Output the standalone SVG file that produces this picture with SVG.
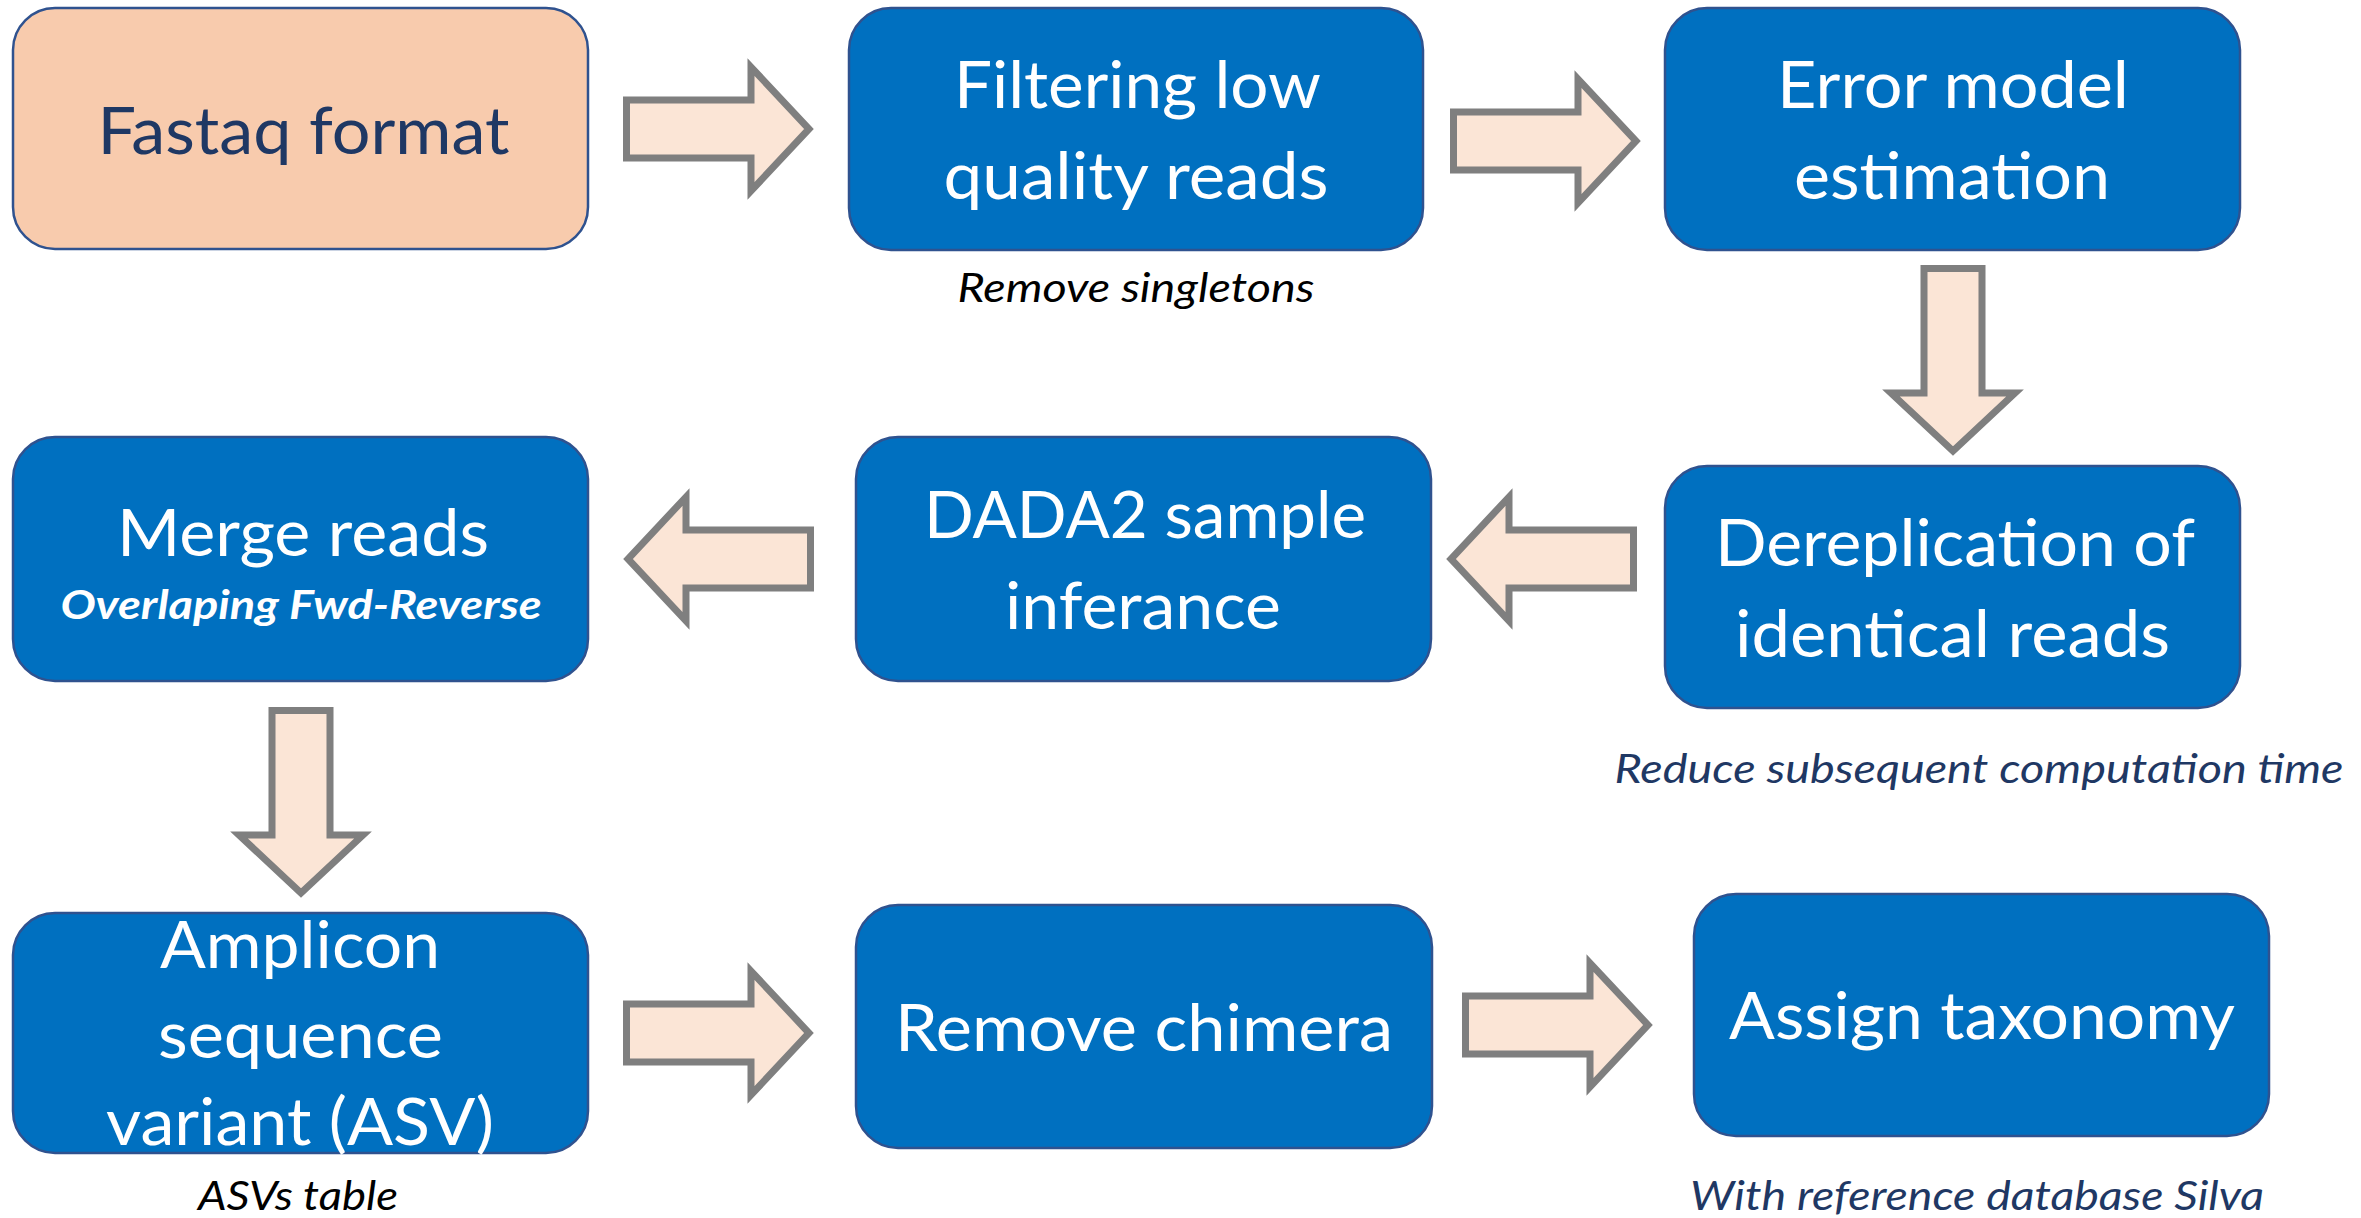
<svg xmlns="http://www.w3.org/2000/svg" width="2361" height="1218" viewBox="0 0 2361 1218">
<style>
.box{fill:#0070C0;stroke:#2F528F;stroke-width:2.5}
.peach{fill:#F8CBAD;stroke:#2F528F;stroke-width:2.5}
.arrow{fill:#FBE5D6;stroke:#7F7F7F;stroke-width:7;stroke-linejoin:miter;stroke-miterlimit:10}
text{font-family:Lato,"Open Sans","Liberation Sans",sans-serif;text-anchor:middle}
.lbl{font-size:65px;fill:#FFFFFF}
.lbl-dark{font-size:65px;fill:#1F3864}
.note{font-size:40px;font-style:italic;fill:#000000}
.note-navy{font-size:40px;font-style:italic;fill:#1F3864}
.sub{font-size:40px;font-style:italic;font-weight:bold;fill:#FFFFFF}
</style>
<defs>
<path id="arr" class="arrow" d="M3.5,-29 H128 V-62 L186,0 L128,62 V29 H3.5 Z"/>
</defs>
<g id="connectors">
<use href="#arr" transform="translate(623,129)"/>
<use href="#arr" transform="translate(1450,141)"/>
<use href="#arr" transform="translate(1953,265) rotate(90)"/>
<use href="#arr" transform="translate(1637,559) rotate(180)"/>
<use href="#arr" transform="translate(814,559) rotate(180)"/>
<use href="#arr" transform="translate(301,707) rotate(90)"/>
<use href="#arr" transform="translate(623,1033)"/>
<use href="#arr" transform="translate(1462,1025)"/>
</g>
<g id="fastaq">
<rect class="peach" x="13" y="8" width="575" height="241" rx="42"/>
<text class="lbl-dark" x="303.5" y="154" textLength="412" lengthAdjust="spacingAndGlyphs">Fastaq format</text>
</g>
<g id="filtering">
<rect class="box" x="849" y="8" width="574" height="242" rx="42"/>
<text class="lbl" x="1137.5" y="108" textLength="367" lengthAdjust="spacingAndGlyphs">Filtering low</text>
<text class="lbl" x="1136" y="199" textLength="385" lengthAdjust="spacingAndGlyphs">quality reads</text>
<text class="note" x="1136" y="302" textLength="357" lengthAdjust="spacingAndGlyphs">Remove singletons</text>
</g>
<g id="error-model">
<rect class="box" x="1665" y="8" width="575" height="242" rx="42"/>
<text class="lbl" x="1953" y="108" textLength="352" lengthAdjust="spacingAndGlyphs">Error model</text>
<text class="lbl" x="1952" y="199" textLength="316" lengthAdjust="spacingAndGlyphs">estimation</text>
</g>
<g id="dereplication">
<rect class="box" x="1665" y="466" width="575" height="242" rx="42"/>
<text class="lbl" x="1955" y="566" textLength="480" lengthAdjust="spacingAndGlyphs">Dereplication of</text>
<text class="lbl" x="1952.5" y="657" textLength="435" lengthAdjust="spacingAndGlyphs">identical reads</text>
<text class="note-navy" x="1979" y="783" textLength="729" lengthAdjust="spacingAndGlyphs">Reduce subsequent computation time</text>
</g>
<g id="dada2">
<rect class="box" x="856" y="437" width="575" height="244" rx="42"/>
<text class="lbl" x="1145" y="538" textLength="442" lengthAdjust="spacingAndGlyphs">DADA2 sample</text>
<text class="lbl" x="1143" y="629" textLength="276" lengthAdjust="spacingAndGlyphs">inferance</text>
</g>
<g id="merge">
<rect class="box" x="13" y="437" width="575" height="244" rx="42"/>
<text class="lbl" x="303" y="556" textLength="372" lengthAdjust="spacingAndGlyphs">Merge reads</text>
<text class="sub" x="301" y="619" textLength="481" lengthAdjust="spacingAndGlyphs">Overlaping Fwd-Reverse</text>
</g>
<g id="amplicon">
<rect class="box" x="13" y="913" width="575" height="240" rx="42"/>
<text class="lbl" x="300" y="968" textLength="280" lengthAdjust="spacingAndGlyphs">Amplicon</text>
<text class="lbl" x="300.5" y="1058" textLength="285" lengthAdjust="spacingAndGlyphs">sequence</text>
<text class="lbl" x="300" y="1145" textLength="388" lengthAdjust="spacingAndGlyphs">variant (ASV)</text>
<text class="note" x="298" y="1210" textLength="200" lengthAdjust="spacingAndGlyphs">ASVs table</text>
</g>
<g id="remove-chimera">
<rect class="box" x="856" y="905" width="576" height="243" rx="42"/>
<text class="lbl" x="1144" y="1051" textLength="498" lengthAdjust="spacingAndGlyphs">Remove chimera</text>
</g>
<g id="assign-taxonomy">
<rect class="box" x="1694" y="894" width="575" height="242" rx="42"/>
<text class="lbl" x="1982" y="1039" textLength="506" lengthAdjust="spacingAndGlyphs">Assign taxonomy</text>
<text class="note-navy" x="1977" y="1210" textLength="574" lengthAdjust="spacingAndGlyphs">With reference database Silva</text>
</g>
</svg>
